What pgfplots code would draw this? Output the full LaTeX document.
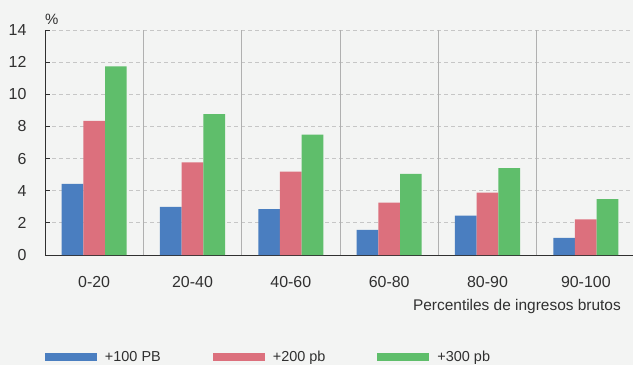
\documentclass[border=0pt]{standalone}
\usepackage{pgfplots}
\pgfplotsset{compat=1.18}
\usepackage{fontspec}
\setmainfont{Liberation Sans}
\definecolor{bg}{HTML}{F3F4F3}
\definecolor{cblue}{HTML}{4A7EC0}
\definecolor{cred}{HTML}{DC707D}
\definecolor{cgreen}{HTML}{5FBE6B}
\definecolor{gridc}{HTML}{C6C6C6}
\definecolor{sepc}{HTML}{B0B0B0}
\definecolor{txt}{HTML}{303030}
\begin{document}
\begin{tikzpicture}
\fill[bg] (0,0) rectangle (633bp,365bp);
\useasboundingbox (0,0) rectangle (633bp,365bp);
\begin{axis}[
  at={(45bp,110bp)}, anchor=south west,
  width=590bp, height=225bp, scale only axis,
  xmin=-0.5, xmax=5.5, ymin=0, ymax=14,
  axis x line*=bottom, axis y line*=left,
  axis line style={txt, line width=0.8bp},
  ytick={0,2,...,14},
  xtick={0,...,5},
  xticklabels={0-20,20-40,40-60,60-80,80-90,90-100},
  x tick style={draw=none},
  y tick style={txt, line width=0.8bp},
  major tick length=5bp,
  ymajorgrids,
  major grid style={gridc, dash pattern=on 4bp off 3bp, line width=0.8bp},
  extra x ticks={0.5,1.5,2.5,3.5,4.5},
  extra x tick labels={},
  extra x tick style={grid=major, major grid style={sepc, solid, line width=0.8bp},
     tick style={draw=txt, line width=0.8bp}, major tick length=6bp},
  /pgf/number format/assume math mode=true,
  tick label style={font=\fontsize{16}{19}\selectfont, text=txt},
  xticklabel style={anchor=base, yshift=-27bp},
  yticklabel style={anchor=east, xshift=-15bp},
  ybar=0pt, bar width=21.7bp,
  legend columns=3,
  legend style={at={(0,-0.4533)}, anchor=west, draw=none, fill=none,
    inner sep=0pt, outer sep=0pt,
    nodes={inner sep=0pt, font=\fontsize{14.5}{16}\selectfont, text=txt},
    /tikz/every odd column/.append style={column sep=8bp},
    /tikz/every even column/.append style={column sep=52bp}},
  clip=false,
]
\addplot[fill=cblue, draw=none, legend image code/.code={\fill[cblue] (0bp,-4bp) rectangle (52bp,4bp);}]
  coordinates {(0,4.42) (1,3.00) (2,2.86) (3,1.56) (4,2.45) (5,1.06)};
\addplot[fill=cred, draw=none, legend image code/.code={\fill[cred] (0bp,-4bp) rectangle (52bp,4bp);}]
  coordinates {(0,8.34) (1,5.77) (2,5.18) (3,3.26) (4,3.88) (5,2.22)};
\addplot[fill=cgreen, draw=none, legend image code/.code={\fill[cgreen] (0bp,-4bp) rectangle (52bp,4bp);}]
  coordinates {(0,11.74) (1,8.77) (2,7.49) (3,5.04) (4,5.41) (5,3.47)};
\legend{+100 PB,+200 pb,+300 pb}
\end{axis}
\node[anchor=base west, inner sep=0pt, text=txt, font=\fontsize{15}{16}\selectfont] at (45bp,340bp) {\%};
\node[anchor=base east, inner sep=0pt, text=txt, font=\fontsize{15.5}{18}\selectfont] at (621bp,54bp) {Percentiles de ingresos brutos};
\end{tikzpicture}
\end{document}
